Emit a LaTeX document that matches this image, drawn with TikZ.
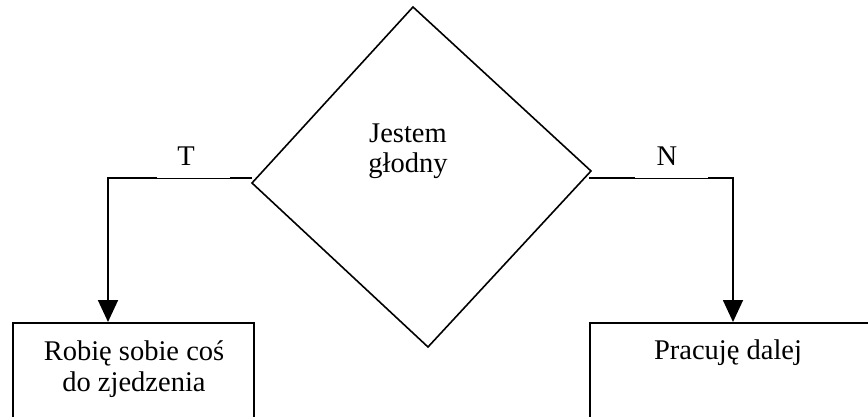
\documentclass[tikz,border=0pt]{standalone}
\usepackage{fontspec}
\setmainfont{Liberation Serif}
\usetikzlibrary{arrows.meta}
\begin{document}
\begin{tikzpicture}[x=1pt,y=-1pt,
  lbl/.style={font=\fontsize{28.5}{31}\selectfont, inner sep=0pt},
  thickln/.style={line width=1.8pt},
  thinln/.style={line width=0.8pt},
  boxst/.style={draw, line width=1.7pt, anchor=north west, inner sep=0pt},
  arr/.style={-{Triangle[width=20pt,length=22pt]}}]
\useasboundingbox (0,0) rectangle (868,417);
\clip (0,0) rectangle (868,417);
% decision diamond
\coordinate (dt) at (413,7);
\coordinate (dr) at (591,171);
\coordinate (db) at (428,347);
\coordinate (dl) at (252,183);
\draw[line width=1.6pt, line join=miter] (dt) -- (dr) -- (db) -- (dl) -- cycle;
\node[lbl, anchor=base, align=center] (q) at (408,173) {Jestem\\głodny};
% boxes
\node[boxst, minimum width=241pt, minimum height=97pt] (boxl) at (12,322) {};
\node[boxst, minimum width=290pt, minimum height=97pt] (boxr) at (589,322) {};
\node[lbl, anchor=base, align=center] (tl1) at (134,391) {Robię sobie coś\\do zjedzenia};
\node[lbl, anchor=base] (tr1) at (728,359) {Pracuję dalej};
% left branch
\coordinate (ls) at (252,178);
\coordinate (tr) at (230,178);
\coordinate (tl) at (157,178);
\coordinate (la) at (108,322);
\draw[thickln] (ls) -- (tr);
\draw[thinln] (tl) -- (tr);
\draw[thickln, arr] (tl) -| (la);
\node[lbl, anchor=base] (T) at (186,166) {T};
% right branch
\coordinate (rs) at (589,178);
\coordinate (nl) at (635,178);
\coordinate (nr) at (708,178);
\coordinate (ra) at (733,322);
\draw[thickln] (rs) -- (nl);
\draw[thinln] (nl) -- (nr);
\draw[thickln, arr] (nr) -| (ra);
\node[lbl, anchor=base] (N) at (667,166) {N};
\end{tikzpicture}
\end{document}
